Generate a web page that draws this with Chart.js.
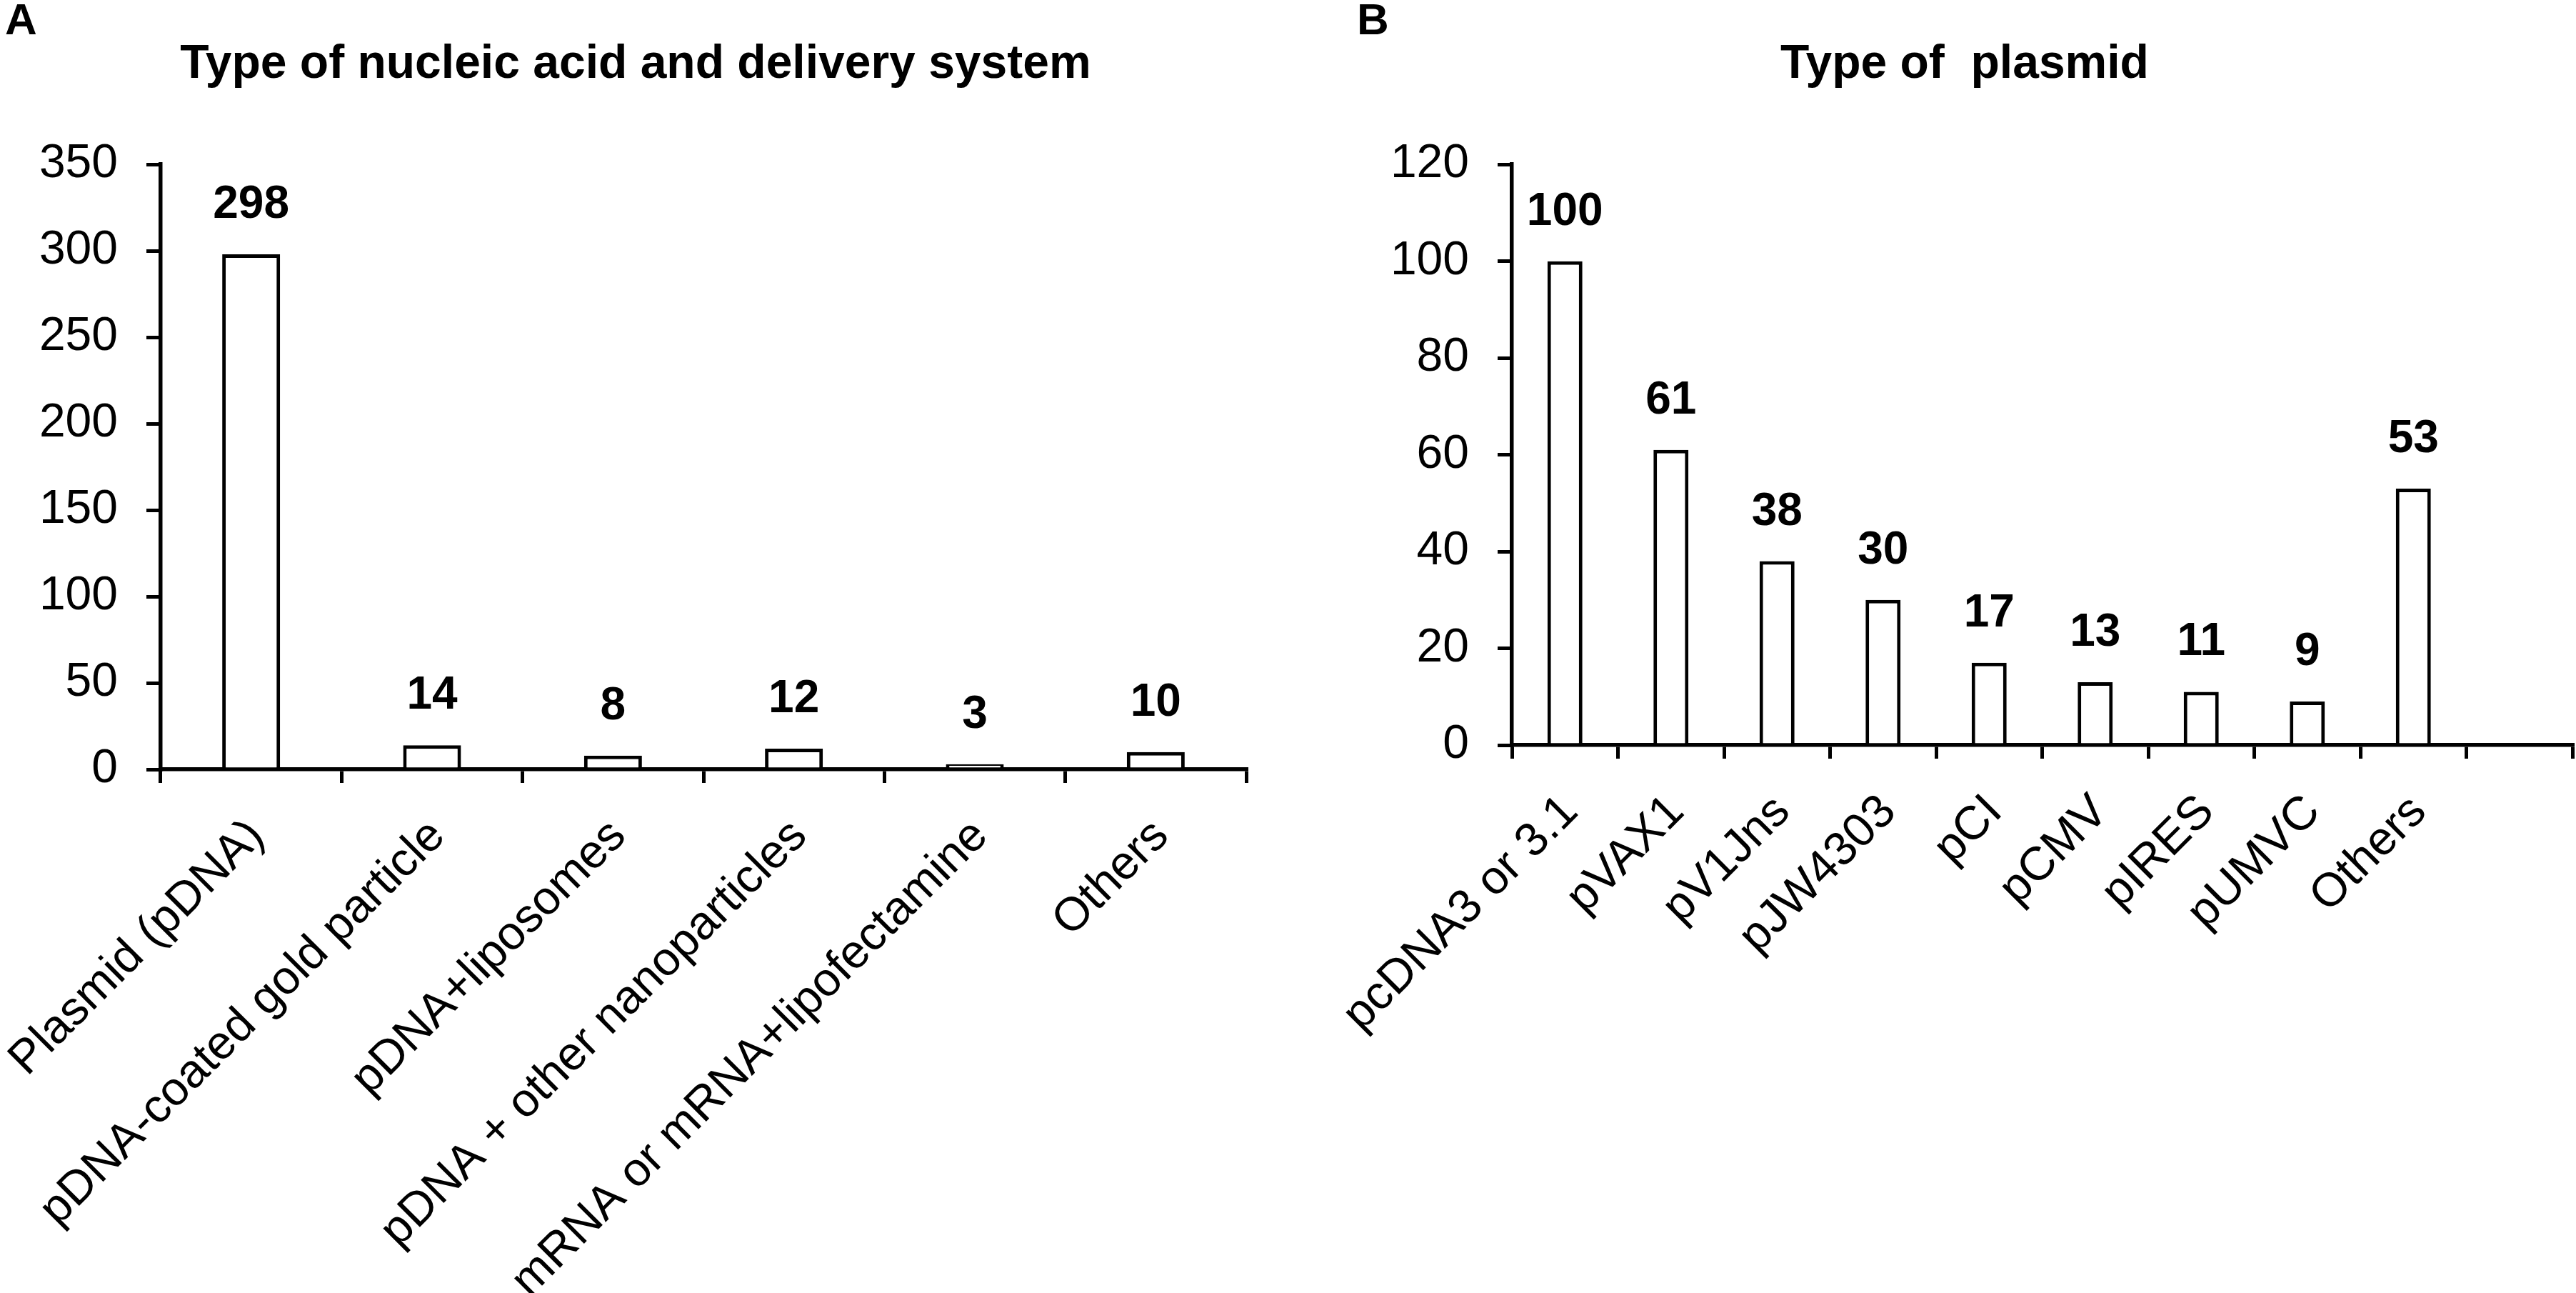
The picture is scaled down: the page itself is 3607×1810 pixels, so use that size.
<!DOCTYPE html>
<html>
<head>
<meta charset="utf-8">
<script src="https://cdn.jsdelivr.net/npm/chart.js@4"></script>
<style>
  html, body { margin: 0; padding: 0; background: #fff; overflow: hidden; }
  #wrap { position: relative; width: 3607px; height: 1810px; }
  canvas { position: absolute; top: 0; }
  #chartA { left: 0; }
  #chartB { left: 1800px; }
</style>
</head>
<body>
<div id="wrap">
  <canvas id="chartA" width="1800" height="1810"></canvas>
  <canvas id="chartB" width="1807" height="1810"></canvas>
</div>
<script>
const FONT = '"Liberation Sans", Arial, sans-serif';

// panel A
const titleA = 'Type of nucleic acid and delivery system';
const categoriesA = ['Plasmid (pDNA)', 'pDNA-coated gold particle', 'pDNA+liposomes',
                     'pDNA + other nanoparticles', 'mRNA or mRNA+lipofectamine', 'Others'];
const valuesA = [298, 14, 8, 12, 3, 10];
const yMaxA = 350;
const yStepA = 50;

// panel B (last slot is an empty category on the axis)
const titleB = 'Type of  plasmid';
const categoriesB = ['pcDNA3 or 3.1', 'pVAX1', 'pV1Jns', 'pJW4303', 'pCI', 'pCMV',
                     'pIRES', 'pUMVC', 'Others', ''];
const valuesB = [100, 61, 38, 30, 17, 13, 11, 9, 53, null];
const yMaxB = 120;
const yStepB = 20;

// numbers over the bars
const valueLabels = {
    id: 'valueLabels',
    afterDatasetsDraw(chart) {
        const ctx = chart.ctx;
        const meta = chart.getDatasetMeta(0);
        const data = chart.data.datasets[0].data;
        ctx.save();
        ctx.font = 'bold 64px ' + FONT;
        ctx.fillStyle = '#000';
        ctx.textAlign = 'center';
        ctx.textBaseline = 'alphabetic';
        meta.data.forEach((bar, i) => {
            if (data[i] == null) return;
            ctx.fillText(String(data[i]), bar.x, bar.y - 51);
        });
        ctx.restore();
    }
};

// "A" / "B" in the corner
const panelLetter = {
    id: 'panelLetter',
    afterDraw(chart, args, opts) {
        const ctx = chart.ctx;
        ctx.save();
        ctx.font = 'bold 62px ' + FONT;
        ctx.fillStyle = '#000';
        ctx.textAlign = 'left';
        ctx.textBaseline = 'alphabetic';
        ctx.fillText(opts.text, opts.x, opts.y);
        ctx.restore();
    }
};

function RenderPanel(canvasId, letter, letterX, title, labels, values, yMax, yStep, box) {
    const ctx = document.getElementById(canvasId);
    return new Chart(ctx, {
        type: 'bar',
        data: {
            labels: labels,
            datasets: [{
                data: values,
                backgroundColor: '#ffffff',
                borderColor: '#000000',
                borderWidth: 5,
                borderSkipped: 'start',
                barPercentage: box.barPct,
                categoryPercentage: 1
            }]
        },
        options: {
            responsive: false,
            animation: false,
            devicePixelRatio: 1,
            layout: { padding: { left: box.padLeft, right: box.padRight, top: 0, bottom: 0 } },
            plugins: {
                legend: { display: false },
                tooltip: { enabled: false },
                title: {
                    display: true,
                    text: title,
                    color: '#000',
                    font: { family: FONT, size: 66, weight: 'bold', lineHeight: 1.2 },
                    padding: { top: 51, bottom: 100 }
                },
                panelLetter: { text: letter, x: letterX, y: 48 }
            },
            scales: {
                x: {
                    grid: { drawOnChartArea: false, color: '#000', lineWidth: 5, tickLength: 19, offset: true },
                    border: { color: '#000', width: 5.5 },
                    ticks: {
                        color: '#000',
                        font: { family: FONT, size: 66 },
                        minRotation: 45,
                        maxRotation: 45,
                        autoSkip: false,
                        padding: 36,
                        labelOffset: 8
                    },
                    afterFit: function(scale) {
                        scale.height = box.xHeight;
                        // long rotated labels may hang left into the empty margin
                        scale.paddingLeft = 0;
                        scale.paddingRight = 0;
                    }
                },
                y: {
                    min: 0,
                    max: yMax,
                    grid: { drawOnChartArea: false, color: '#000', lineWidth: 5, tickLength: 20 },
                    border: { color: '#000', width: 5.5 },
                    ticks: {
                        stepSize: yStep,
                        color: '#000',
                        font: { family: FONT, size: 66 },
                        padding: 40
                    },
                    afterFit: function(scale) { scale.width = box.yWidth; }
                }
            }
        },
        plugins: [valueLabels, panelLetter]
    });
}

RenderPanel('chartA', 'A', 7, titleA, categoriesA, valuesA, yMaxA, yStepA,
    { padLeft: 35, padRight: 55, yWidth: 190, xHeight: 733, barPct: 0.32 });
RenderPanel('chartB', 'B', 100, titleB, categoriesB, valuesB, yMaxB, yStepB,
    { padLeft: 100, padRight: 5, yWidth: 217, xHeight: 767, barPct: 0.33 });
</script>
</body>
</html>
